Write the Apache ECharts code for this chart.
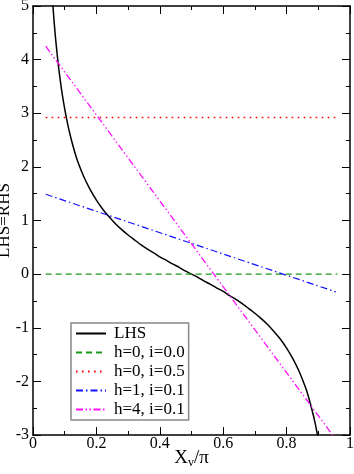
<!DOCTYPE html>
<html><head><meta charset="utf-8">
<script src="https://cdn.jsdelivr.net/npm/echarts@6/dist/echarts.min.js"></script>
<style>html,body{margin:0;padding:0;background:#fff}#c{width:354px;height:474px}</style>
</head><body><div id="c"></div>
<script>
// LHS curve
const lhsX = [0.06,0.065,0.07,0.075,0.08,0.09,0.10,0.11,0.12,0.13,0.14,0.16,0.18,0.20,0.22,0.24,0.26,0.28,0.30,0.32,0.34,0.36,0.38,0.40,0.42,0.44,0.46,0.48,0.50,0.52,0.54,0.56,0.58,0.60,0.62,0.64,0.66,0.68,0.70,0.72,0.74,0.76,0.78,0.80,0.82,0.84,0.86,0.87,0.88,0.89,0.90];
const lhsY = [5.24,4.83,4.47,4.17,3.89,3.44,3.08,2.78,2.53,2.31,2.12,1.82,1.58,1.38,1.21,1.07,0.94,0.83,0.73,0.64,0.55,0.47,0.40,0.32,0.26,0.19,0.13,0.06,0.0,-0.06,-0.13,-0.19,-0.26,-0.32,-0.40,-0.47,-0.55,-0.64,-0.73,-0.83,-0.94,-1.07,-1.21,-1.38,-1.58,-1.82,-2.12,-2.31,-2.53,-2.78,-3.08];
// straight RHS lines: [x, y] end points
const rhsH0I00 = [[0.04, 0.0], [0.96, 0.0]];
const rhsH0I05 = [[0.04, 2.92], [0.96, 2.92]];
const rhsH1I01 = [[0.04, 1.49], [0.955, -0.33]];
const rhsH4I01 = [[0.04, 4.25], [0.955, -3.08]];
const xTicks = [0, 0.2, 0.4, 0.6, 0.8, 1];
const yTicks = [-3, -2, -1, 0, 1, 2, 3, 4, 5];
const names = ['LHS', 'h=0, i=0.0', 'h=0, i=0.5', 'h=1, i=0.1', 'h=4, i=0.1'];

const FONT = 'Liberation Serif';
const lhs = lhsX.map((x, i) => [x, lhsY[i]]);

const chart = echarts.init(document.getElementById('c'));
const baseAxis = {
  type: 'value',
  axisLine: { show: true, onZero: false, lineStyle: { color: '#000', width: 1.5 } },
  axisTick: { show: true, inside: true, length: 8, lineStyle: { color: '#000', width: 1 } },
  minorTick: { show: true, splitNumber: 2, length: 4, lineStyle: { color: '#000', width: 1 } },
  splitLine: { show: false },
  minorSplitLine: { show: false }
};
chart.setOption({
  animation: false,
  backgroundColor: '#fff',
  textStyle: { fontFamily: FONT },
  grid: { left: 33, right: 4, top: 6, bottom: 39, containLabel: false, outerBoundsMode: 'none' },
  xAxis: [
    Object.assign({}, baseAxis, {
      min: xTicks[0], max: xTicks[xTicks.length - 1], interval: 0.2, position: 'bottom',
      axisLabel: { color: '#000', fontFamily: FONT, fontSize: 16, margin: 1,
        formatter: v => String(+v.toFixed(1)) },
      name: '{a|X}{s|v}{a|/π}', nameLocation: 'middle', nameGap: 13, nameMoveOverlap: false,
      nameTextStyle: { rich: {
        a: { fontFamily: FONT, fontSize: 19, color: '#000' },
        s: { fontFamily: FONT, fontSize: 12, color: '#000', padding: [9, 0, 0, 0] }
      } }
    }),
    Object.assign({}, baseAxis, {
      min: 0, max: 1, interval: 0.2, position: 'top', axisLabel: { show: false }
    })
  ],
  yAxis: [
    Object.assign({}, baseAxis, {
      min: yTicks[0], max: yTicks[yTicks.length - 1], interval: 1, position: 'left',
      axisLabel: { color: '#000', fontFamily: FONT, fontSize: 16, margin: 4 },
      name: 'LHS=RHS', nameLocation: 'middle', nameGap: 20, nameMoveOverlap: false,
      nameTextStyle: { fontFamily: FONT, fontSize: 17, color: '#000' }
    }),
    Object.assign({}, baseAxis, {
      min: -3, max: 5, interval: 1, position: 'right', axisLabel: { show: false }
    })
  ],
  legend: {
    orient: 'vertical', left: 71, top: 323, padding: [2, 4, 2, 4],
    itemWidth: 30, itemHeight: 14, itemGap: 2,
    backgroundColor: '#fff', borderColor: '#888', borderWidth: 1.5, borderRadius: 0,
    itemStyle: { color: 'rgba(0,0,0,0)', borderWidth: 0, opacity: 0 },
    textStyle: { fontFamily: FONT, fontSize: 17, color: '#000', padding: [0, 0, 0, 3] },
    data: names
  },
  series: [
    { name: names[0], type: 'line', data: lhs, symbol: 'none', smooth: 0.2,
      lineStyle: { color: '#000', width: 1.5 }, itemStyle: { color: '#000' } },
    { name: names[1], type: 'line', data: rhsH0I00, symbol: 'none',
      lineStyle: { color: '#1a9a1a', width: 1.2, type: [6, 4] }, itemStyle: { color: '#1a9a1a' } },
    { name: names[2], type: 'line', data: rhsH0I05, symbol: 'none',
      lineStyle: { color: '#ff0000', width: 1.6, type: [1.6, 4.4] }, itemStyle: { color: '#ff0000' } },
    { name: names[3], type: 'line', data: rhsH1I01, symbol: 'none',
      lineStyle: { color: '#1010ff', width: 1.2, type: [7, 3, 1.5, 3] }, itemStyle: { color: '#1010ff' } },
    { name: names[4], type: 'line', data: rhsH4I01, symbol: 'none',
      lineStyle: { color: '#ff10ff', width: 1.3, type: [7, 2.5, 1.5, 2.5, 1.5, 2.5] }, itemStyle: { color: '#ff10ff' } }
  ]
});
</script></body></html>
